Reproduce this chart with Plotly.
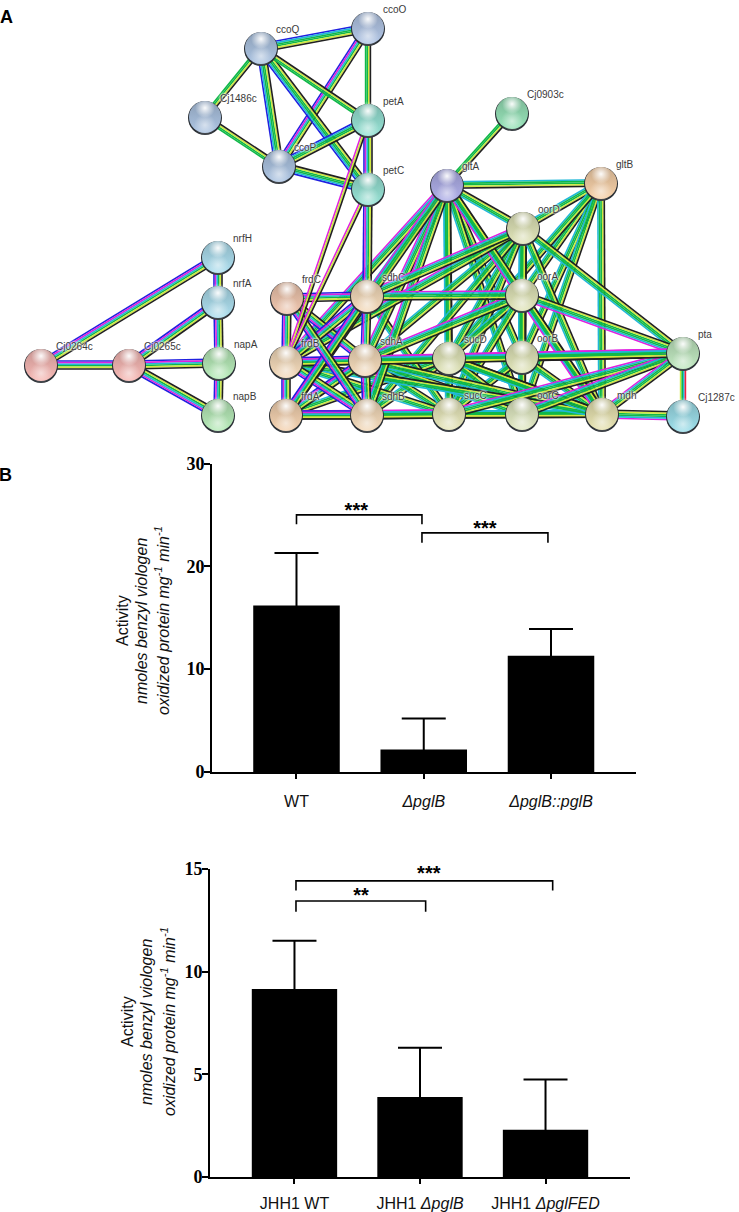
import plotly.graph_objects as go

# panel A, node positions
node_names = ['ccoO', 'ccoQ', 'Cj1486c', 'ccoP', 'petA', 'petC', 'Cj0903c', 'gltA', 'gltB', 'oorD',
              'oorA', 'oorB', 'oorC', 'sucD', 'sucC', 'mdh', 'pta', 'Cj1287c', 'sdhC', 'sdhA', 'sdhB',
              'frdC', 'frdB', 'frdA', 'nrfH', 'nrfA', 'napA', 'napB', 'Cj0264c', 'Cj0265c']
node_x = [368, 261, 205, 279, 368, 368, 512, 447, 601, 523,
          522, 522, 522, 449, 449, 602, 683, 683, 367, 365, 367,
          287, 286, 286, 218, 218, 219, 218, 41, 129]
node_y = [28, 48, 117, 166, 120, 189, 113, 185, 183, 228,
          295, 357, 414, 358, 414, 414, 353, 416, 296, 360, 415,
          298, 362, 415, 257, 302, 363, 415, 365, 365]
node_fill = ['#b4c8e8', '#aec6e4', '#aec6e4', '#aec6e4', '#98e4d6', '#98e4d6', '#98e4ba', '#b0b0ea', '#f8d2aa', '#e2e6ba',
             '#e2e6ba', '#e2e6ba', '#e2eac4', '#e2e6ba', '#e8e8bc', '#e8e4b2', '#c2eac2', '#9ee0ec', '#f6dcbc', '#f6dcbc', '#f6dcbc',
             '#f2c8b0', '#f6dcbc', '#f6d4b2', '#aee0f0', '#aee0f0', '#b8ecba', '#b8ecba', '#f8bab6', '#f8bab6']

# edges by which evidence stripes they show
edges_six = ['Cj0264c nrfH', 'Cj0265c nrfA', 'Cj0264c Cj0265c', 'Cj0265c napA', 'Cj0265c napB', 'nrfH nrfA',
             'nrfA napA', 'napA napB', 'ccoP ccoO', 'petA petC', 'petC sdhC', 'sdhC sdhA', 'sdhA sdhB',
             'frdC frdB', 'frdB frdA', 'frdB sdhA', 'frdA sdhB', 'frdA sdhA', 'frdB sdhB', 'frdC sdhA',
             'frdB sdhC', 'frdA sdhC', 'frdC sdhB', 'frdC sdhC']
edges_no_magenta = ['ccoQ ccoO', 'ccoQ ccoP', 'ccoQ petC', 'ccoP petC', 'ccoP petA']
edges_metab = ['gltA gltB', 'gltA oorD', 'gltA oorA', 'gltA oorB', 'gltA oorC', 'gltA sucD', 'gltA sucC',
               'gltA sdhC', 'gltB oorD', 'gltB oorA', 'gltB oorB', 'gltB oorC', 'gltB mdh', 'gltB sucD',
               'oorD oorA', 'oorD oorB', 'oorD oorC', 'oorD sucD', 'oorD sucC', 'oorD mdh', 'oorD pta',
               'oorD sdhA', 'oorD sdhB', 'oorA oorB', 'oorA oorC', 'oorA sucD', 'oorA sucC', 'oorA mdh',
               'oorB oorC', 'oorB sucC', 'oorB sucD', 'oorB mdh', 'oorB sdhA', 'oorC sucD', 'oorC sucC',
               'oorC mdh', 'sucD sucC', 'sucD mdh', 'sucD sdhA', 'sucD sdhB', 'sucD frdA', 'sucC sdhA',
               'sucC sdhB', 'sucC mdh', 'sucC frdB', 'sucC sdhC', 'oorC sdhA', 'oorC sdhB', 'mdh sdhA',
               'mdh sdhB', 'mdh frdA', 'mdh frdB', 'mdh sucD']
edges_magenta = ['gltA frdB', 'gltA sdhA', 'gltA sdhB', 'gltA mdh', 'oorA pta', 'oorB pta', 'sucD pta',
                 'sucC pta', 'oorC pta', 'mdh pta', 'sdhA pta', 'oorD frdB', 'oorA sdhA', 'oorA sdhC',
                 'sdhB sucC', 'frdA sucC', 'oorD sdhC', 'oorB frdB', 'mdh Cj1287c', 'gltA frdA']
edges_thin = ['ccoQ petA', 'Cj1486c ccoP', 'gltA Cj0903c', 'ccoQ Cj1486c', 'ccoO petA']
edges_pale = ['petA frdB', 'petC frdB']
edges_red = ['pta Cj1287c']

# panel B, top chart
top_labels = ['WT', '<i>ΔpglB</i>', '<i>ΔpglB::pglB</i>']
top_means = [16.2, 2.2, 11.3]
top_errors = [5.1, 3.0, 2.6]
top_ticks = [0, 10, 20, 30]
top_bracket_x = [[0, 0, 0.986, 0.986], [0.986, 0.986, 1.976, 1.976]]
top_bracket_y = [[24.1, 25.0, 25.0, 24.1], [22.3, 23.25, 23.25, 22.3]]
top_star_x = [0.47, 1.48]
top_star_y = [25.3, 23.55]

# panel B, bottom chart
bot_labels = ['JHH1 WT', 'JHH1 <i>ΔpglB</i>', 'JHH1 <i>ΔpglFED</i>']
bot_means = [9.15, 3.9, 2.3]
bot_errors = [2.35, 2.4, 2.45]
bot_ticks = [0, 5, 10, 15]
bot_bracket_x = [[0.012, 0.012, 2.057, 2.057], [0.012, 0.012, 1.045, 1.045]]
bot_bracket_y = [[13.95, 14.42, 14.42, 13.95], [12.92, 13.44, 13.44, 12.92]]
bot_star_x = [1.07, 0.53]
bot_star_y = [14.72, 13.65]

stripe_colors = {'b': '#2020e0', 'm': '#e020e0', 'c': '#20b8d8', 'g': '#10b848', 'y': '#d0e840', 'k': '#202020', 'r': '#f02040'}
stripe_w = 1.6

edge_sets = [(edges_metab, 'cggyk'), (edges_magenta, 'mcggyk'), (edges_six, 'bmcgyk'),
             (edges_no_magenta, 'bcggyk'), (edges_thin, 'ggyk'), (edges_pale, 'myk'), (edges_red, 'ygcr')]

W = 739
H = 1212
fig = go.Figure()
pos = {n: (x, y) for n, x, y in zip(node_names, node_x, node_y)}


def hex_shade(c, f):
    r, g, b = int(c[1:3], 16), int(c[3:5], 16), int(c[5:7], 16)
    return 'rgb(%d,%d,%d)' % (r * f, g * f, b * f)


for edge_list, stripes in edge_sets:
    for edge in edge_list:
        a, b = edge.split(' ')
        x0, y0 = pos[a]
        x1, y1 = pos[b]
        length = ((x1 - x0) ** 2 + (y1 - y0) ** 2) ** 0.5
        nx, ny = (y1 - y0) / length, -(x1 - x0) / length
        if nx < 0 or (nx == 0 and ny < 0):
            nx, ny = -nx, -ny
        for i, s in enumerate(stripes):
            off = (i - (len(stripes) - 1) / 2) * stripe_w
            fig.add_trace(go.Scatter(x=[x0 + nx * off, x1 + nx * off], y=[y0 + ny * off, y1 + ny * off],
                                     mode='lines', line=dict(color=stripe_colors[s], width=stripe_w),
                                     hoverinfo='skip', xaxis='x3', yaxis='y3'))

# spheres: dark rim shifted down, shaded body, soft highlights top and bottom
fig.add_trace(go.Scatter(x=node_x, y=[y + 1 for y in node_y], mode='markers', hoverinfo='skip', xaxis='x3', yaxis='y3',
                         marker=dict(size=34, color='#2a2f35', line=dict(width=0))))
fig.add_trace(go.Scatter(x=node_x, y=node_y, mode='markers', hoverinfo='skip', xaxis='x3', yaxis='y3',
                         marker=dict(size=32, color=[hex_shade(c, 0.8) for c in node_fill],
                                     gradient=dict(type='vertical', color=node_fill),
                                     line=dict(width=0))))
fig.add_trace(go.Scatter(x=node_x, y=[y + 8 for y in node_y], mode='markers', hoverinfo='skip', xaxis='x3', yaxis='y3',
                         marker=dict(size=22, color='rgba(255,255,255,0)',
                                     gradient=dict(type='radial', color='rgba(255,255,255,0.55)'), line=dict(width=0))))
fig.add_trace(go.Scatter(x=node_x, y=[y - 9 for y in node_y], mode='markers', hoverinfo='skip', xaxis='x3', yaxis='y3',
                         marker=dict(size=20, color='rgba(255,255,255,0)',
                                     gradient=dict(type='radial', color='rgba(255,255,255,0.95)'), line=dict(width=0))))
fig.add_trace(go.Scatter(x=[x + 15 for x in node_x], y=[y - 13 for y in node_y], mode='text', text=node_names,
                         textposition='top right', hoverinfo='skip', xaxis='x3', yaxis='y3',
                         textfont=dict(family='Liberation Sans', size=10, color='#3a3a3a',
                                       shadow='0 0 2px #ffffff, 0 0 2px #ffffff, 0 0 3px #ffffff')))

# bars, the error bar runs down inside the bar so no cap shows on top of it
fig.add_trace(go.Bar(x=[0, 1, 2], y=top_means, width=0.68, marker=dict(color='black', line=dict(width=0)),
                     error_y=dict(type='data', symmetric=False, array=top_errors, arrayminus=top_means,
                                  color='black', thickness=2, width=22), xaxis='x', yaxis='y'))
fig.add_trace(go.Bar(x=[0, 1, 2], y=bot_means, width=0.68, marker=dict(color='black', line=dict(width=0)),
                     error_y=dict(type='data', symmetric=False, array=bot_errors, arrayminus=bot_means,
                                  color='black', thickness=2, width=22), xaxis='x2', yaxis='y2'))

for bx, by in zip(top_bracket_x, top_bracket_y):
    fig.add_trace(go.Scatter(x=bx, y=by, mode='lines', line=dict(color='black', width=1.6), hoverinfo='skip', xaxis='x', yaxis='y'))
for bx, by in zip(bot_bracket_x, bot_bracket_y):
    fig.add_trace(go.Scatter(x=bx, y=by, mode='lines', line=dict(color='black', width=1.6), hoverinfo='skip', xaxis='x2', yaxis='y2'))
fig.add_trace(go.Scatter(x=top_star_x, y=top_star_y, mode='text', text=['***', '***'], hoverinfo='skip', xaxis='x', yaxis='y',
                         cliponaxis=False, textfont=dict(family='Liberation Sans', size=20, color='black', weight='bold')))
fig.add_trace(go.Scatter(x=bot_star_x, y=bot_star_y, mode='text', text=['***', '**'], hoverinfo='skip', xaxis='x2', yaxis='y2',
                         cliponaxis=False, textfont=dict(family='Liberation Sans', size=20, color='black', weight='bold')))

axis_style = dict(showgrid=False, zeroline=False, showline=True, linecolor='black', linewidth=2, ticks='outside',
                  tickcolor='black', tickwidth=2)
x_font = dict(family='Liberation Sans', size=16, color='#111111')
y_font = dict(family='Liberation Serif', size=18, color='black', weight='bold')
fig.update_layout(
    width=W, height=H, margin=dict(l=0, r=0, t=0, b=0, autoexpand=False), autosize=False, showlegend=False,
    paper_bgcolor='white', plot_bgcolor='rgba(0,0,0,0)', barmode='overlay',
    xaxis=dict(domain=[212 / W, 636 / W], range=[-0.664, 2.668], anchor='y', tickvals=[0, 1, 2], ticktext=top_labels,
               tickfont=x_font, ticklen=5, ticklabelstandoff=9, **axis_style),
    yaxis=dict(domain=[1 - 772 / H, 1 - 463.5 / H], range=[0, 30], anchor='x', tickvals=top_ticks,
               tickfont=y_font, ticklen=6, ticklabelstandoff=-4, **axis_style),
    xaxis2=dict(domain=[210 / W, 630 / W], range=[-0.673, 2.673], anchor='y2', tickvals=[0, 1, 2], ticktext=bot_labels,
                tickfont=x_font, ticklen=5, ticklabelstandoff=6, **axis_style),
    yaxis2=dict(domain=[1 - 1177 / H, 1 - 869 / H], range=[0, 15], anchor='x2', tickvals=bot_ticks,
                tickfont=y_font, ticklen=6, ticklabelstandoff=-4, **axis_style),
    xaxis3=dict(domain=[0, 1], range=[0, W], visible=False, anchor='y3'),
    yaxis3=dict(domain=[0, 1], range=[H, 0], visible=False, anchor='x3'),
)

title_font = dict(family='Liberation Sans', size=16, color='#111111')
side_titles = [(122, 621, 'Activity'), (141, 621, '<i>nmoles benzyl viologen</i>'),
               (162, 621, '<i>oxidized protein mg<sup>-1</sup> min<sup>-1</sup></i>'),
               (127, 1022, 'Activity'), (146, 1022, '<i>nmoles benzyl viologen</i>'),
               (168, 1022, '<i>oxidized protein mg<sup>-1</sup> min<sup>-1</sup></i>')]
for tx, ty, tt in side_titles:
    fig.add_annotation(x=tx, y=ty, xref='x3', yref='y3', text=tt, textangle=-90, showarrow=False, font=title_font)
for tx, ty, tt in [(6.5, 17, 'A'), (5, 475, 'B')]:
    fig.add_annotation(x=tx, y=ty, xref='x3', yref='y3', text='<b>' + tt + '</b>', showarrow=False,
                       font=dict(family='Liberation Sans', size=18, color='black'))

fig.write_html("out.html", post_script="document.body.style.margin='0';", config=dict(displayModeBar=False))
